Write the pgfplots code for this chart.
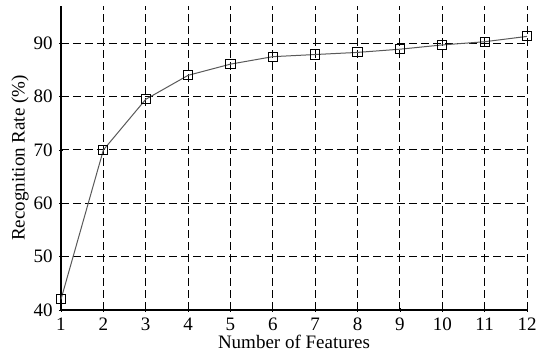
\documentclass[border=0pt]{standalone}
\usepackage{fontspec}
\setmainfont{Liberation Serif}
\usepackage{pgfplots}
\pgfplotsset{compat=1.18}
\begin{document}
\begin{tikzpicture}
\begin{axis}[
  name=ax,
  scale only axis,
  width=233pt, height=152pt,
  xmin=1, xmax=12, ymin=40, ymax=97,
  xtick={1,...,12},
  ytick={40,50,60,70,80,90},
  axis x line=bottom, axis y line=left,
  axis line style={-, line width=0.6pt, black},
  tick style={black, line width=0.4pt},
  major tick length=2pt,
  grid=major,
  major grid style={black, line width=0.5pt, dash pattern=on 4pt off 2pt},
  /pgf/number format/assume math mode=true,
  tick label style={font=\fontsize{9.5}{11}\selectfont},
  label style={font=\fontsize{9.5}{11}\selectfont},
  xticklabel style={anchor=center, yshift=-6pt},
  yticklabel style={anchor=east, inner sep=0pt, xshift=-3pt},
  xlabel={Number of Features},
  ylabel={Recognition Rate (\%)},
  xlabel style={at={(axis description cs:0.5,-0.105)}, anchor=center},
  ylabel style={at={(axis description cs:-0.088,0.5)}, anchor=center},
  clip=false,
]
\addplot[gray!70!black, line width=0.5pt, mark=square, mark size=2.3pt,
  mark options={black, line width=0.5pt, solid}]
coordinates {
(1,42.0) (2,70.0) (3,79.5) (4,84.0) (5,86.1) (6,87.5)
(7,87.9) (8,88.3) (9,88.9) (10,89.7) (11,90.3) (12,91.3)
};
\end{axis}
\pgfresetboundingbox
\path ([shift={(-30.5pt,-21.5pt)}]ax.south west) rectangle ([shift={(7.5pt,3pt)}]ax.north east);
\end{tikzpicture}
\end{document}
